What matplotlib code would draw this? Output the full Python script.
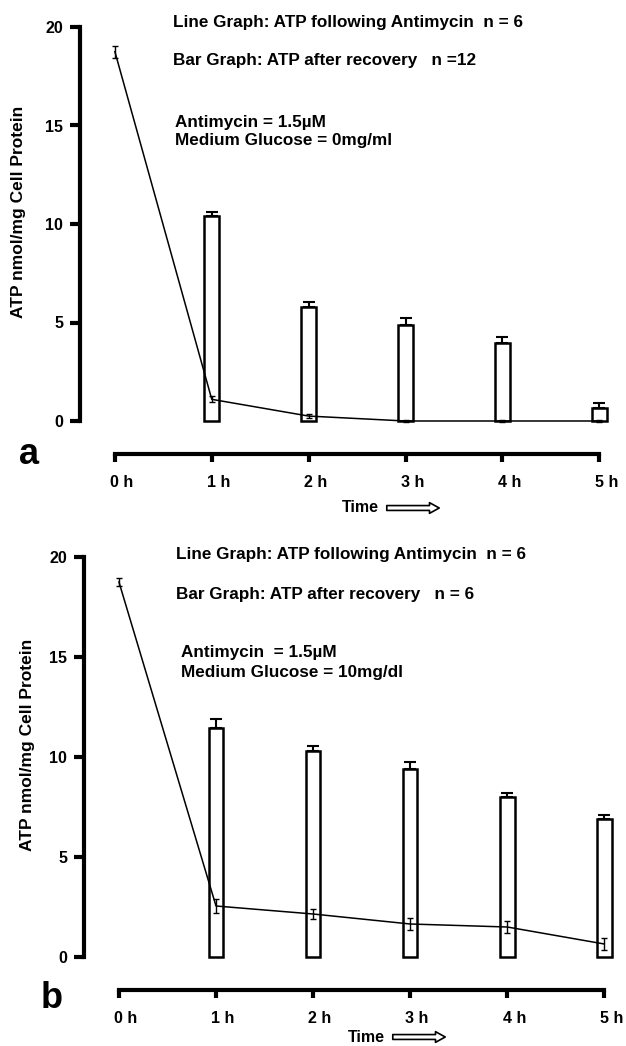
"""
ATP after antimycin exposure (line) and after recovery (bars),
two glucose conditions, panels a and b.
"""
import matplotlib
matplotlib.use("Agg")
import matplotlib.pyplot as plt
import matplotlib.transforms as mtransforms

plt.rcParams["font.family"] = ["Liberation Sans", "DejaVu Sans"]

# ── Data ──────────────────────────────────────────────────────────────────────
HOURS = [0, 1, 2, 3, 4, 5]
HOUR_LABELS = ["0 h", "1 h", "2 h", "3 h", "4 h", "5 h"]
BAR_HOURS = [1, 2, 3, 4, 5]

# panel a: glucose 0 mg/ml
A_LINE = [18.75, 1.1, 0.25, 0.0, 0.0, 0.0]
A_LINE_ERR = [0.3, 0.15, 0.1, 0.03, 0.03, 0.03]
A_BAR = [10.4, 5.8, 4.85, 3.95, 0.65]
A_BAR_ERR = [0.2, 0.25, 0.4, 0.3, 0.25]
A_TEXT = ["Line Graph: ATP following Antimycin  n = 6",
          "Bar Graph: ATP after recovery   n =12",
          "Antimycin = 1.5\u00b5M",
          "Medium Glucose = 0mg/ml"]

# panel b: glucose 10 mg/dl
B_LINE = [18.75, 2.55, 2.15, 1.65, 1.5, 0.65]
B_LINE_ERR = [0.2, 0.35, 0.25, 0.3, 0.3, 0.3]
B_BAR = [11.45, 10.3, 9.4, 8.0, 6.9]
B_BAR_ERR = [0.45, 0.25, 0.35, 0.2, 0.2]
B_TEXT = ["Line Graph: ATP following Antimycin  n = 6",
          "Bar Graph: ATP after recovery   n = 6",
          "Antimycin  = 1.5\u00b5M",
          "Medium Glucose = 10mg/dl"]

W, H = 626, 1046
DPI = 100


def fx(px):
    return px / W


def fy(py):
    return 1 - py / H


def draw_panel(fig, box, line, line_err, bars, bar_err, texts, letter, geo):
    # box = (left px, right px, y0 px, y20 px)
    left, right, y0, y20 = box
    ax = fig.add_axes([fx(left), fy(y0), (right - left) / W, (y0 - y20) / H])
    ax.set_xlim(-0.36, 5.1)
    ax.set_ylim(0, 20)

    ax.bar(BAR_HOURS, bars, width=0.15, facecolor="white", edgecolor="black",
           linewidth=1.8, zorder=2, clip_on=False)
    ax.errorbar(BAR_HOURS, bars, yerr=[[0] * len(bar_err), bar_err], fmt="none",
                ecolor="black", elinewidth=1.5, capsize=4, capthick=1.5, zorder=3)
    ax.errorbar(HOURS, line, yerr=line_err, fmt="-", color="black", lw=1.1,
                elinewidth=1.0, capsize=2.5, capthick=1.0, zorder=4, clip_on=False)

    for s in ["top", "right"]:
        ax.spines[s].set_visible(False)
    ax.spines["left"].set_linewidth(3)
    ax.spines["left"].set_bounds(0, 20)
    ax.spines["bottom"].set_linewidth(3)
    ax.spines["bottom"].set_bounds(0, 5)
    ax.spines["bottom"].set_position(("outward", 24))

    ax.set_yticks([0, 5, 10, 15, 20])
    ax.set_xticks(HOURS)
    ax.set_xticklabels(HOUR_LABELS)
    ax.tick_params(axis="y", length=7, width=3, pad=5, labelsize=11.5)
    ax.tick_params(axis="x", length=6, width=3, pad=9, labelsize=11.5)
    for lab in ax.get_xticklabels() + ax.get_yticklabels():
        lab.set_fontweight("bold")
    off = mtransforms.ScaledTranslation(7 / DPI, 0, fig.dpi_scale_trans)
    for lab in ax.get_xticklabels():
        lab.set_transform(lab.get_transform() + off)

    tx, ty = geo["text_x"], geo["text_y"]
    for t, x, y in zip(texts, tx, ty):
        fig.text(fx(x), fy(y), t, fontsize=12.3, fontweight="bold",
                 va="center", ha="left")

    fig.text(fx(geo["ylab"][0]), fy(geo["ylab"][1]), "ATP nmol/mg Cell Protein",
             rotation=90, fontsize=12.5, fontweight="bold", ha="center", va="center")
    fig.text(fx(geo["letter"][0]), fy(geo["letter"][1]), letter, fontsize=26,
             fontweight="bold", ha="center", va="center")

    tx0, tyt = geo["time"]
    fig.text(fx(tx0), fy(tyt), "Time", fontsize=11.5, fontweight="bold",
             ha="left", va="center")
    fig.add_artist(matplotlib.patches.FancyArrowPatch(
        (fx(tx0 + 42), fy(tyt)), (fx(tx0 + 100), fy(tyt)),
        transform=fig.transFigure,
        arrowstyle="simple,head_length=0.5,head_width=0.55,tail_width=0.25",
        mutation_scale=14, facecolor="white", edgecolor="black", linewidth=1.2))
    return ax


def main():
    fig = plt.figure(figsize=(W / DPI, H / DPI), dpi=DPI)

    draw_panel(fig, (80, 609, 421, 27), A_LINE, A_LINE_ERR, A_BAR, A_BAR_ERR,
               A_TEXT, "a",
               {"text_x": [173, 173, 175, 175], "text_y": [22, 60, 122, 140],
                "ylab": [19, 212], "letter": [29, 455], "time": [342, 508]})
    draw_panel(fig, (84, 614, 957, 557), B_LINE, B_LINE_ERR, B_BAR, B_BAR_ERR,
               B_TEXT, "b",
               {"text_x": [176, 176, 181, 181], "text_y": [555, 594, 653, 673],
                "ylab": [28, 745], "letter": [52, 999], "time": [348, 1037]})

    fig.savefig("out.png", dpi=DPI)


if __name__ == "__main__":
    main()
